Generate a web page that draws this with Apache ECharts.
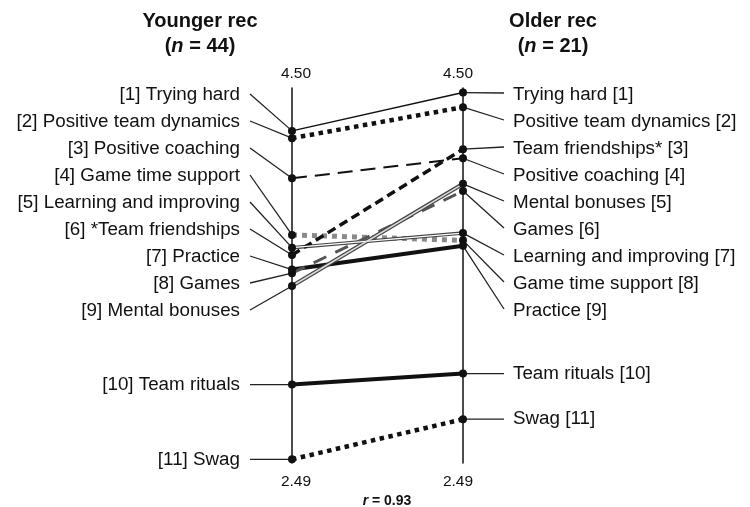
<!DOCTYPE html>
<html>
<head>
<meta charset="utf-8">
<script src="https://cdn.jsdelivr.net/npm/echarts@6/dist/echarts.min.js"></script>
<style>
  html, body { margin: 0; padding: 0; background: #fff; }
  #chart { width: 750px; height: 507px; }
</style>
</head>
<body>
<div id="chart"></div>
<script>
// 11 items, younger vs older ratings
const items = ['Trying hard', 'Positive team dynamics', 'Positive coaching', 'Game time support',
  'Learning and improving', 'Team friendships', 'Practice', 'Games', 'Mental bonuses', 'Team rituals', 'Swag'];
const younger = [4.29, 4.25, 4.03, 3.72, 3.65, 3.61, 3.53, 3.51, 3.44, 2.90, 2.49];
const older = [4.50, 4.42, 4.14, 3.69, 3.73, 4.19, 3.66, 3.96, 4.00, 2.96, 2.71];
// labels in rank order (highest first) for each group
const youngerLabels = ['[1] Trying hard', '[2] Positive team dynamics', '[3] Positive coaching',
  '[4] Game time support', '[5] Learning and improving', '[6] *Team friendships', '[7] Practice',
  '[8] Games', '[9] Mental bonuses', '[10] Team rituals', '[11] Swag'];
const olderLabels = ['Trying hard [1]', 'Positive team dynamics [2]', 'Team friendships* [3]',
  'Positive coaching [4]', 'Mental bonuses [5]', 'Games [6]', 'Learning and improving [7]',
  'Game time support [8]', 'Practice [9]', 'Team rituals [10]', 'Swag [11]'];
const groups = ['Younger rec', 'Older rec'];
const groupN = [44, 21];
const tickLabels = ['4.50', '2.49'];
const rValue = '0.93';

const FONT = "'Liberation Sans', Arial, sans-serif";
const BLACK = '#111';

// line look for each item (same order as items)
const looks = [
  { color: BLACK, width: 1.5 },
  { color: BLACK, width: 4.5, type: [4.5, 4.5] },
  { color: BLACK, width: 2, type: [15, 8] },
  { color: '#8a8a8a', width: 5, type: [5, 5] },
  { color: '#444', width: 3.5, inner: '#fff', innerWidth: 1.2 },
  { color: BLACK, width: 3.5, type: [9, 5] },
  { color: BLACK, width: 4 },
  { color: '#555', width: 3, type: [14, 10] },
  { color: '#444', width: 4, inner: '#ddd', innerWidth: 1.5 },
  { color: BLACK, width: 4 },
  { color: BLACK, width: 4.5, type: [4.5, 4.5] }
];

const chart = echarts.init(document.getElementById('chart'));

function yAxisCfg(pos) {
  return {
    type: 'value', position: pos, min: 2.47, max: 4.525,
    axisLine: { show: true, lineStyle: { color: BLACK, width: 1.5 } },
    axisTick: { show: false }, axisLabel: { show: false }, splitLine: { show: false }
  };
}

let series = [];
items.forEach((name, i) => {
  const lk = looks[i];
  const pts = [[0, younger[i]], [1, older[i]]];
  series.push({
    name: name, type: 'line', data: pts, symbol: 'none', z: 2,
    lineStyle: { color: lk.color, width: lk.width, type: lk.type || 'solid', cap: 'butt' }
  });
  if (lk.inner) {// double line look
    series.push({
      type: 'line', data: pts, symbol: 'none', z: 3,
      lineStyle: { color: lk.inner, width: lk.innerWidth }
    });
  }
});
let dots = [];
items.forEach((n, i) => {
  dots.push([0, younger[i]]);
  dots.push([1, older[i]]);
});
series.push({ type: 'scatter', data: dots, symbolSize: 8, itemStyle: { color: BLACK, opacity: 1 }, z: 10 });

const headStyle = {
  fontSize: 20, fontWeight: 'bold', color: BLACK, fontFamily: FONT, lineHeight: 25,
  rich: {
    b: { fontSize: 20, fontWeight: 'bold', color: BLACK, fontFamily: FONT, lineHeight: 25 },
    i: { fontSize: 20, fontWeight: 'bold', fontStyle: 'italic', color: BLACK, fontFamily: FONT, lineHeight: 25 }
  }
};

const option = {
  animation: false,
  title: [
    { left: 195, top: 4, textAlign: 'center', text: '{b|' + groups[0] + '}\n{b|(}{i|n}{b| = ' + groupN[0] + ')}', textStyle: headStyle },
    { left: 548, top: 4, textAlign: 'center', text: '{b|' + groups[1] + '}\n{b|(}{i|n}{b| = ' + groupN[1] + ')}', textStyle: headStyle },
    {
      left: 382, top: 489, textAlign: 'center', text: '{i|r}{b| = ' + rValue + '}',
      textStyle: {
        rich: {
          b: { fontSize: 14, fontWeight: 'bold', color: BLACK, fontFamily: FONT },
          i: { fontSize: 14, fontWeight: 'bold', fontStyle: 'italic', color: BLACK, fontFamily: FONT }
        }
      }
    }
  ],
  grid: { left: 292, right: 287, top: 88, bottom: 44 },
  xAxis: { type: 'value', min: 0, max: 1, show: false },
  yAxis: [yAxisCfg('left'), yAxisCfg('right')],
  series: series
};
chart.setOption(option);

// labels + leader lines, placed from the axis scale
function rankOrder(vals) {
  return vals.map((v, i) => i).sort((a, b) => vals[b] - vals[a]);
}
const graphics = [];
function addText(txt, x, y, align, size, bold) {
  graphics.push({
    type: 'text', z: 20,
    style: {
      text: txt, x: x, y: y, fill: BLACK,
      font: (bold ? 'bold ' : '') + size + 'px ' + FONT,
      textAlign: align, textVerticalAlign: 'middle', align: align, verticalAlign: 'middle'
    }
  });
}
function addLine(x1, y1, x2, y2) {
  graphics.push({
    type: 'line', z: 1,
    shape: { x1: x1, y1: y1, x2: x2, y2: y2 },
    style: { stroke: '#222', lineWidth: 1.3 }
  });
}
const slotTop = 95, slotStep = 27, nSlots = 9;
[[younger, youngerLabels, 0], [older, olderLabels, 1]].forEach(([vals, labels, side]) => {
  const order = rankOrder(vals);
  order.forEach((idx, k) => {
    const p = chart.convertToPixel({ gridIndex: 0 }, [side, vals[idx]]);
    const ly = k < nSlots ? slotTop + k * slotStep : p[1];
    if (side === 0) {
      addLine(250, k < nSlots ? ly - 1 : p[1], p[0], p[1]);
      addText(labels[k], 240, ly, 'right', 18.8, false);
    } else {
      addLine(p[0], p[1], 504, k < nSlots ? ly - 2 : p[1]);
      addText(labels[k], 513, ly, 'left', 18.8, false);
    }
  });
});
// end tick labels of the two axes
[0, 1].forEach(side => {
  const top = chart.convertToPixel({ gridIndex: 0 }, [side, 4.50]);
  const bot = chart.convertToPixel({ gridIndex: 0 }, [side, 2.49]);
  const dx = side === 0 ? 4 : -5;
  addText(tickLabels[0], top[0] + dx, 74, 'center', 15.5, false);
  addText(tickLabels[1], bot[0] + dx, 482, 'center', 15.5, false);
});
chart.setOption({ graphic: graphics });
</script>
</body>
</html>
